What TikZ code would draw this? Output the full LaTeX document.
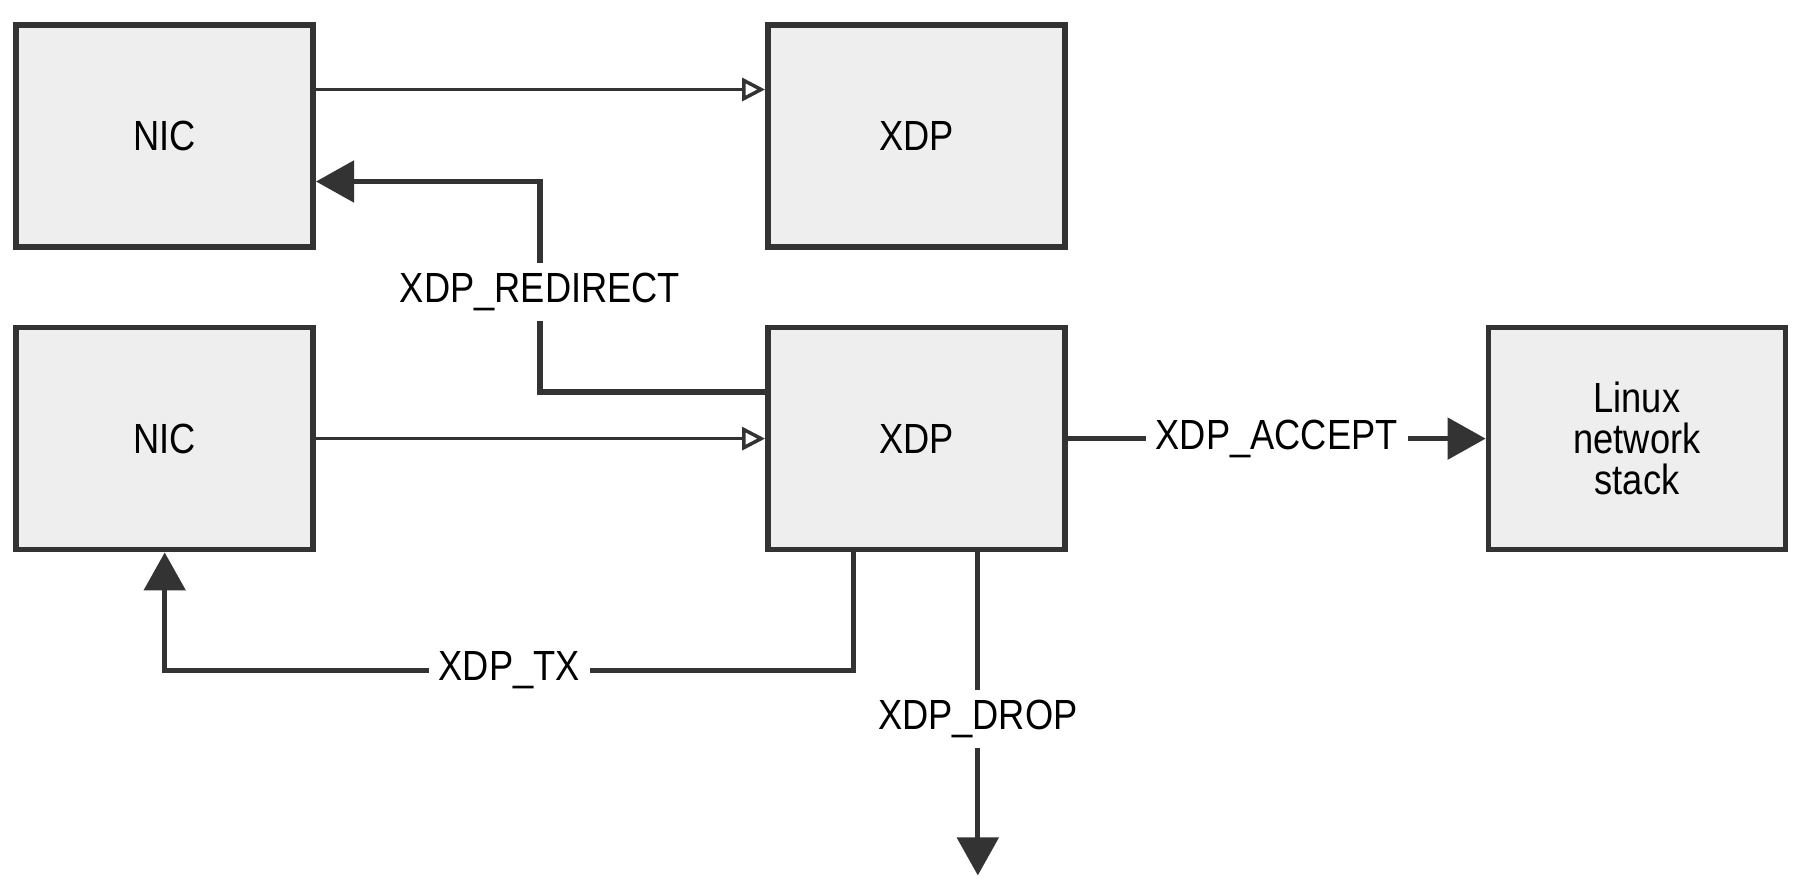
\documentclass[tikz,border=0pt]{standalone}
\usepackage{fontspec}
\setmainfont{Liberation Sans}[FakeStretch=0.86]
\usetikzlibrary{positioning,arrows.meta}
\definecolor{boxfill}{HTML}{EEEEEE}
\definecolor{boxline}{HTML}{333333}
\tikzset{main node/.style={rectangle,fill=boxfill,draw=boxline,line width=1.6pt,minimum width=2.97cm,minimum height=2.22cm,inner sep=0pt,align=center,font=\fontsize{12}{11.7}\selectfont},
	feed/.style={draw=boxline,line width=0.7pt,-{Triangle[open,length=2.3mm,width=2.3mm,line width=1pt]}},
	action/.style={draw=boxline,line width=1.5pt,-{Triangle[length=3.8mm,width=4.1mm]}},
	action label/.style={fill=white,inner sep=1mm,font=\fontsize{12}{14}\selectfont},
}

\begin{document}
\begin{tikzpicture}
				\path[use as bounding box,fill=white] (0,0) rectangle (18,8.91);
				\node[main node] (nic1) at (1.647,7.55) {NIC};
				\node[main node] (xdp1) [right =4.49cm of nic1] {XDP};
				\node[main node] (nic2) [below =0.75cm of nic1] {NIC};
				\node[main node] (xdp2) [right =4.49cm of nic2] {XDP};
				\node[main node] (linux) [right =4.18cm of xdp2] {Linux\\network\\stack};
				\coordinate (dropend) at ([xshift=6.15mm,yshift=-3.23cm]xdp2.south);
				
				\draw[feed] ([yshift=4.65mm]nic1.east) -- ([yshift=4.65mm]xdp1.west);
				\draw[feed] (nic2) -- (xdp2);
				
				\draw[action] ([yshift=4.65mm]xdp2.west) -- ++(-2.25,0) |- node[action label,pos=0.25,yshift=-0.5mm] {XDP\_REDIRECT} ([yshift=-4.55mm]nic1.east);
				\draw[action] ([xshift=-6.25mm]xdp2.south) -- ++(0,-1.18) -| node[action label,pos=0.25] {XDP\_TX} (nic2.south);
				\draw[action] (xdp2) -- node[action label] {XDP\_ACCEPT} (linux);
				\draw[action] ([xshift=6.15mm]xdp2.south) -- node[action label,yshift=-0.5mm] {XDP\_DROP} (dropend);
				
			\end{tikzpicture}
\end{document}
